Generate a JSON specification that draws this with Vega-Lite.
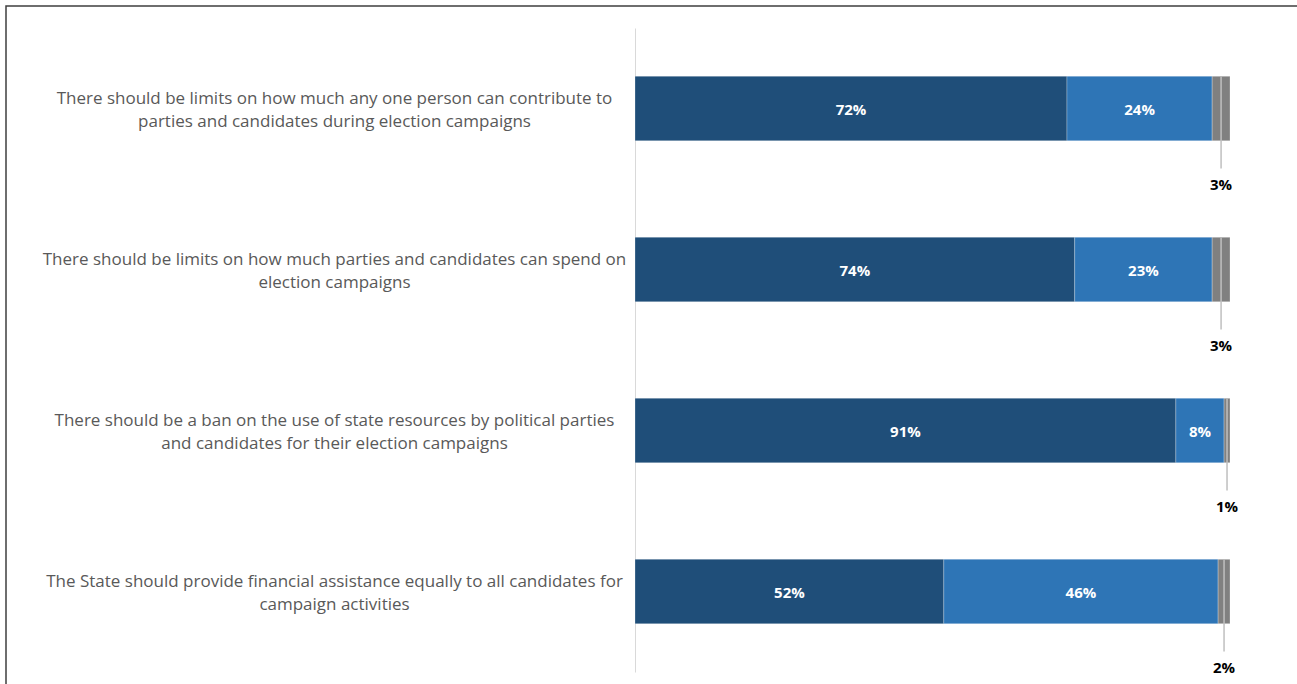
{
  "$schema": "https://vega.github.io/schema/vega-lite/v6.json",
  "autosize": {"type": "none"},
  "padding": {"left": 6, "top": 6, "right": 0, "bottom": 0},
  "width": 1296,
  "height": 678,
  "background": "#ffffff",
  "config": {
    "view": {"stroke": "#3F3F3F", "strokeWidth": 1.5, "strokeDash": [1296, 1974, 678]},
    "font": "Open Sans"
  },
  "data": {
    "values": [
      {"q": "There should be limits on how much any one person can contribute to|parties and candidates during election campaigns", "cat": "A", "order": 1, "value": 72.6, "label": "72%"},
      {"q": "There should be limits on how much any one person can contribute to|parties and candidates during election campaigns", "cat": "B", "order": 2, "value": 24.4, "label": "24%"},
      {"q": "There should be limits on how much any one person can contribute to|parties and candidates during election campaigns", "cat": "C", "order": 3, "value": 3.0, "label": "3%"},
      {"q": "There should be limits on how much parties and candidates can spend on|election campaigns", "cat": "A", "order": 1, "value": 73.9, "label": "74%"},
      {"q": "There should be limits on how much parties and candidates can spend on|election campaigns", "cat": "B", "order": 2, "value": 23.1, "label": "23%"},
      {"q": "There should be limits on how much parties and candidates can spend on|election campaigns", "cat": "C", "order": 3, "value": 3.0, "label": "3%"},
      {"q": "There should be a ban on the use of state resources by political parties|and candidates for their election campaigns", "cat": "A", "order": 1, "value": 90.9, "label": "91%"},
      {"q": "There should be a ban on the use of state resources by political parties|and candidates for their election campaigns", "cat": "B", "order": 2, "value": 8.1, "label": "8%"},
      {"q": "There should be a ban on the use of state resources by political parties|and candidates for their election campaigns", "cat": "C", "order": 3, "value": 1.0, "label": "1%"},
      {"q": "The State should provide financial assistance equally to all candidates for|campaign activities", "cat": "A", "order": 1, "value": 51.9, "label": "52%"},
      {"q": "The State should provide financial assistance equally to all candidates for|campaign activities", "cat": "B", "order": 2, "value": 46.1, "label": "46%"},
      {"q": "The State should provide financial assistance equally to all candidates for|campaign activities", "cat": "C", "order": 3, "value": 2.0, "label": "2%"}
    ]
  },
  "transform": [
    {"stack": "value", "groupby": ["q"], "sort": [{"field": "order", "order": "ascending"}], "as": ["x0", "x1"]},
    {"calculate": "(datum.x0 + datum.x1) / 2", "as": "xm"}
  ],
  "encoding": {
    "y": {
      "field": "q",
      "type": "nominal",
      "sort": null,
      "scale": {"range": [22, 666], "paddingInner": 0.6, "paddingOuter": 0.3},
      "axis": {
        "title": null,
        "orient": "left",
        "offset": -629,
        "ticks": false,
        "domain": true,
        "domainColor": "#D9D9D9",
        "domainWidth": 1,
        "labelAlign": "center",
        "labelBaseline": "middle",
        "labelPadding": 301,
        "labelOffset": -9.5,
        "labelLimit": 0,
        "labelFont": "Open Sans",
        "labelFontSize": 17,
        "labelColor": "#595959",
        "labelLineHeight": 23,
        "labelExpr": "split(datum.label, '|')"
      }
    }
  },
  "layer": [
    {
      "mark": {"type": "bar", "stroke": "#ffffff", "strokeOpacity": 0.25, "strokeWidth": 1},
      "encoding": {
        "x": {"field": "x0", "type": "quantitative", "scale": {"domain": [0, 100], "range": [629, 1224], "nice": false, "zero": false}, "axis": null},
        "x2": {"field": "x1"},
        "color": {
          "field": "cat",
          "type": "nominal",
          "scale": {"domain": ["A", "B", "C"], "range": ["#1F4E79", "#2E75B6", "#808080"]},
          "legend": null
        }
      }
    },
    {
      "transform": [{"filter": "datum.cat == 'C'"}],
      "mark": {"type": "rule", "color": "#BFBFBF", "strokeWidth": 1.5, "yOffset": -32, "y2Offset": 60},
      "encoding": {
        "x": {"field": "xm", "type": "quantitative"},
        "y2": {"field": "q"}
      }
    },
    {
      "transform": [{"filter": "datum.cat != 'C'"}],
      "mark": {"type": "text", "font": "Open Sans", "fontWeight": "bold", "fontSize": 15, "color": "#ffffff", "align": "center", "baseline": "middle", "yOffset": 1},
      "encoding": {
        "x": {"field": "xm", "type": "quantitative"},
        "text": {"field": "label"}
      }
    },
    {
      "transform": [{"filter": "datum.cat == 'C'"}],
      "mark": {"type": "text", "font": "Open Sans", "fontWeight": "bold", "fontSize": 15, "color": "#000000", "align": "center", "baseline": "middle", "yOffset": 76},
      "encoding": {
        "x": {"field": "xm", "type": "quantitative"},
        "text": {"field": "label"}
      }
    }
  ]
}
